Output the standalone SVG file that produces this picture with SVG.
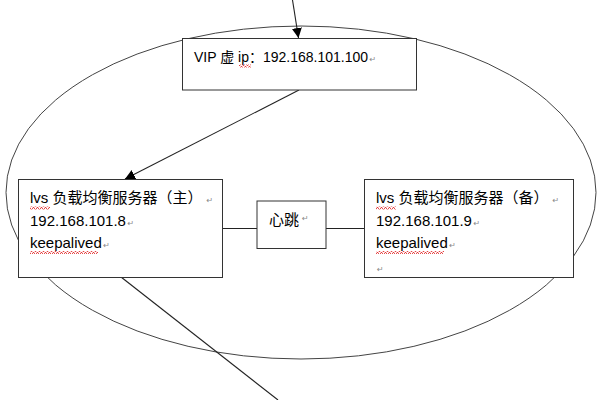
<svg xmlns="http://www.w3.org/2000/svg" width="600" height="400" viewBox="0 0 600 400">
<style>
.box{fill:#fff;stroke:#333;stroke-width:1}
.t{font-family:"Liberation Sans","Noto Sans CJK SC",sans-serif;font-size:15px;fill:#000}
.pm{font-family:"DejaVu Sans",sans-serif;font-size:8px;fill:#888}
.ln{stroke:#222;stroke-width:1.1;fill:none}
.sq{fill:url(#squig)}
</style>
<defs>
<marker id="ah" viewBox="0 0 10 10" refX="10" refY="5" markerWidth="10" markerHeight="10" markerUnits="userSpaceOnUse" orient="auto">
<path d="M0,0 L10,5 L0,10 z" fill="#000"/>
</marker>
<pattern id="squig" width="4" height="3" patternUnits="userSpaceOnUse">
<polyline points="0,2.5 1,0.5 2,0.5 3,2.5 4,2.5" fill="none" stroke="#e02020" stroke-width="0.8"/>
</pattern>
</defs>
<ellipse cx="301" cy="192.5" rx="295" ry="166.5" fill="none" stroke="#444" stroke-width="1"/>
<g id="connectors">
<line class="ln" x1="292.5" y1="0" x2="298.5" y2="38" marker-end="url(#ah)"/>
<line class="ln" x1="299" y1="90" x2="125" y2="179" marker-end="url(#ah)"/>
<line class="ln" x1="222" y1="228.5" x2="257" y2="228.5"/>
<line class="ln" x1="326" y1="228.5" x2="364" y2="228.5"/>
<line class="ln" x1="121" y1="277" x2="278" y2="400"/>
</g>
<g id="vip">
<rect class="box" x="182.5" y="38.5" width="234" height="51.5"/>
<text class="t" x="194" y="62" style="font-size:14px">VIP 虚 ip：192.168.101.100<tspan class="pm" dx="1.5">↵</tspan></text>
<rect class="sq" x="239" y="64.5" width="12" height="3"/>
</g>
<g id="master">
<rect class="box" x="18.5" y="179.5" width="204" height="98"/>
<text class="t" x="30" y="203">lvs 负载均衡服务器（主）<tspan class="pm" dx="4">↵</tspan></text>
<text class="t" x="30" y="225.5">192.168.101.8<tspan class="pm" dx="1.5">↵</tspan></text>
<text class="t" x="30" y="248">keepalived<tspan class="pm" dx="1.5">↵</tspan></text>
<rect class="sq" x="30" y="206.5" width="20" height="3"/>
<rect class="sq" x="30" y="251" width="68" height="3"/>
</g>
<g id="heartbeat">
<rect class="box" x="257" y="201" width="69" height="47.5"/>
<text class="t" x="269" y="225">心跳</text>
<text class="pm" x="302" y="221">↵</text>
</g>
<g id="backup">
<rect class="box" x="364.5" y="179.5" width="209" height="98"/>
<text class="t" x="376" y="203">lvs 负载均衡服务器（备）<tspan class="pm" dx="4">↵</tspan></text>
<text class="t" x="376" y="225.5">192.168.101.9<tspan class="pm" dx="1.5">↵</tspan></text>
<text class="t" x="376" y="248">keepalived<tspan class="pm" dx="1.5">↵</tspan></text>
<text class="pm" x="377" y="272">↵</text>
<rect class="sq" x="376" y="206.5" width="20" height="3"/>
<rect class="sq" x="376" y="251" width="68" height="3"/>
</g>
</svg>
